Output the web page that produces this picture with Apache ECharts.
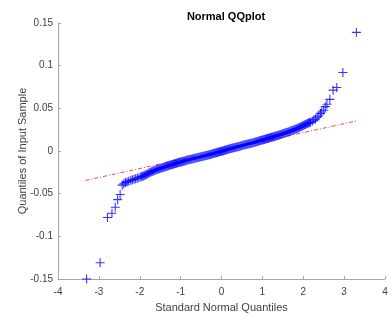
<!DOCTYPE html>
<html>
<head>
<meta charset="utf-8">
<script src="https://cdn.jsdelivr.net/npm/echarts@6/dist/echarts.min.js"></script>
<style>
  html, body { margin: 0; padding: 0; background: #fff; }
  #main { width: 392px; height: 318px; }
</style>
</head>
<body>
<div id="main"></div>
<script>
// theoretical quantiles (x) and sample quantiles (y)
var normQ = [
    -3.30, -2.97, -2.79, -2.68, -2.60, -2.54, -2.48, -2.43, -2.39, -2.35,
    -2.31, -2.27, -2.22, -2.18, -2.14, -2.10, -2.06, -2.02,
    -1.975, -1.950, -1.925, -1.900, -1.875, -1.850, -1.825, -1.800, -1.775, -1.750,
    -1.725, -1.700, -1.675, -1.650, -1.625, -1.600, -1.575, -1.550, -1.525, -1.500,
    -1.475, -1.450, -1.425, -1.400, -1.375, -1.350, -1.325, -1.300, -1.275, -1.250,
    -1.225, -1.200, -1.175, -1.150, -1.125, -1.100, -1.075, -1.050, -1.025, -1.000,
    -0.975, -0.950, -0.925, -0.900, -0.875, -0.850, -0.825, -0.800, -0.775, -0.750,
    -0.725, -0.700, -0.675, -0.650, -0.625, -0.600, -0.575, -0.550, -0.525, -0.500,
    -0.475, -0.450, -0.425, -0.400, -0.375, -0.350, -0.325, -0.300, -0.275, -0.250,
    -0.225, -0.200, -0.175, -0.150, -0.125, -0.100, -0.075, -0.050, -0.025, 0.000,
    0.025, 0.050, 0.075, 0.100, 0.125, 0.150, 0.175, 0.200, 0.225, 0.250,
    0.275, 0.300, 0.325, 0.350, 0.375, 0.400, 0.425, 0.450, 0.475, 0.500,
    0.525, 0.550, 0.575, 0.600, 0.625, 0.650, 0.675, 0.700, 0.725, 0.750,
    0.775, 0.800, 0.825, 0.850, 0.875, 0.900, 0.925, 0.950, 0.975, 1.000,
    1.025, 1.050, 1.075, 1.100, 1.125, 1.150, 1.175, 1.200, 1.225, 1.250,
    1.275, 1.300, 1.325, 1.350, 1.375, 1.400, 1.425, 1.450, 1.475, 1.500,
    1.525, 1.550, 1.575, 1.600, 1.625, 1.650, 1.675, 1.700, 1.725, 1.750,
    1.775, 1.800, 1.825, 1.850, 1.875, 1.900, 1.925, 1.950, 1.975, 2.000,
    2.025, 2.050, 2.075, 2.100, 2.125, 2.150, 2.175,
    2.22, 2.26, 2.30, 2.34, 2.38, 2.42, 2.45, 2.50, 2.54, 2.58,
    2.65, 2.73, 2.82, 2.97, 3.30
];
var sampleQ = [
    -0.1500, -0.1310, -0.0780, -0.0730, -0.0660, -0.0570, -0.0510, -0.0400, -0.0385, -0.0370,
    -0.0362, -0.0355, -0.0346, -0.0338, -0.0332, -0.0326, -0.0320, -0.0313,
    -0.0303, -0.0300, -0.0295, -0.0290, -0.0285, -0.0279, -0.0272, -0.0266, -0.0259, -0.0252,
    -0.0246, -0.0240, -0.0235, -0.0230, -0.0226, -0.0221, -0.0217, -0.0212, -0.0208, -0.0204,
    -0.0200, -0.0196, -0.0192, -0.0188, -0.0184, -0.0180, -0.0176, -0.0172, -0.0168, -0.0164,
    -0.0161, -0.0157, -0.0153, -0.0150, -0.0146, -0.0143, -0.0139, -0.0136, -0.0132, -0.0129,
    -0.0125, -0.0122, -0.0119, -0.0116, -0.0112, -0.0109, -0.0106, -0.0103, -0.0100, -0.0097,
    -0.0094, -0.0091, -0.0088, -0.0085, -0.0082, -0.0079, -0.0076, -0.0073, -0.0070, -0.0067,
    -0.0064, -0.0061, -0.0058, -0.0055, -0.0052, -0.0049, -0.0046, -0.0043, -0.0040, -0.0037,
    -0.0033, -0.0030, -0.0027, -0.0024, -0.0020, -0.0017, -0.0013, -0.0010, -0.0006, -0.0003,
    0.0001, 0.0004, 0.0008, 0.0011, 0.0015, 0.0018, 0.0022, 0.0025, 0.0028, 0.0031,
    0.0035, 0.0038, 0.0041, 0.0044, 0.0048, 0.0051, 0.0054, 0.0057, 0.0060, 0.0063,
    0.0067, 0.0070, 0.0073, 0.0076, 0.0079, 0.0082, 0.0085, 0.0088, 0.0092, 0.0095,
    0.0098, 0.0101, 0.0105, 0.0108, 0.0112, 0.0115, 0.0119, 0.0122, 0.0126, 0.0129,
    0.0133, 0.0136, 0.0140, 0.0143, 0.0147, 0.0150, 0.0154, 0.0157, 0.0161, 0.0164,
    0.0168, 0.0171, 0.0175, 0.0178, 0.0182, 0.0186, 0.0190, 0.0194, 0.0198, 0.0202,
    0.0206, 0.0210, 0.0214, 0.0218, 0.0223, 0.0227, 0.0232, 0.0236, 0.0241, 0.0245,
    0.0250, 0.0254, 0.0259, 0.0264, 0.0270, 0.0275, 0.0281, 0.0286, 0.0292, 0.0298,
    0.0304, 0.0310, 0.0316, 0.0322, 0.0327, 0.0333, 0.0338,
    0.0350, 0.0365, 0.0375, 0.0395, 0.0410, 0.0440, 0.0458, 0.0478, 0.0520, 0.0548,
    0.0605, 0.0713, 0.0745, 0.0920, 0.1390
];

// reference line end points
var refX = [-3.33, 3.30];
var refY = [-0.0345, 0.0352];

var xTicks = [-4, -3, -2, -1, 0, 1, 2, 3, 4];
var yTicks = [-0.15, -0.1, -0.05, 0, 0.05, 0.1, 0.15];

var points = normQ.map(function (x, i) { return [x, sampleQ[i]]; });
var refLine = refX.map(function (x, i) { return [x, refY[i]]; });

var plus = 'path://M0,4.4H10V5.6H0Z M4.4,0H5.6V10H4.4Z';
var axisCol = '#a6a6a6';
var txtCol = '#404040';
var font = 'Liberation Sans, Arial, sans-serif';

var myChart = echarts.init(document.getElementById('main'), null, { renderer: 'canvas' });

myChart.setOption({
    backgroundColor: '#fff',
    animation: false,
    title: {
        text: 'Normal QQplot',
        left: 221,
        top: 6,
        textAlign: 'center',
        textStyle: { fontFamily: font, fontSize: 11, fontWeight: 'bold', color: '#000' }
    },
    grid: { left: 58, right: 7, top: 23, bottom: 38 },
    xAxis: {
        type: 'value',
        min: xTicks[0],
        max: xTicks[xTicks.length - 1],
        interval: 1,
        name: 'Standard Normal Quantiles',
        nameLocation: 'middle',
        nameGap: 23,
        nameMoveOverlap: false,
        nameTextStyle: { fontFamily: font, fontSize: 11, color: txtCol },
        splitLine: { show: false },
        axisLine: { onZero: false, lineStyle: { color: axisCol, width: 1 } },
        axisTick: { inside: true, length: 3, lineStyle: { color: axisCol } },
        axisLabel: { fontFamily: font, fontSize: 10, color: txtCol, margin: 8 }
    },
    yAxis: {
        type: 'value',
        min: yTicks[0],
        max: yTicks[yTicks.length - 1],
        interval: 0.05,
        name: 'Quantiles of Input Sample',
        nameLocation: 'middle',
        nameGap: 30,
        nameMoveOverlap: false,
        nameTextStyle: { fontFamily: font, fontSize: 11, color: txtCol },
        splitLine: { show: false },
        axisLine: { show: true, onZero: false, lineStyle: { color: axisCol, width: 1 } },
        axisTick: { show: true, inside: true, length: 3, lineStyle: { color: axisCol } },
        axisLabel: {
            fontFamily: font, fontSize: 10, color: txtCol, margin: 5,
            formatter: function (v) { return String(Math.round(v * 100) / 100); }
        }
    },
    series: [{
        name: 'line',
        type: 'line',
        data: refLine,
        symbol: 'none',
        silent: true,
        z: 1,
        lineStyle: { color: 'rgba(255,0,0,0.75)', width: 1, type: [4, 2, 1, 2] }
    }, {
        name: 'data',
        type: 'scatter',
        data: points,
        symbol: plus,
        symbolSize: 9,
        z: 2,
        itemStyle: { color: '#0000ff', opacity: 0.8 }
    }]
});
</script>
</body>
</html>
